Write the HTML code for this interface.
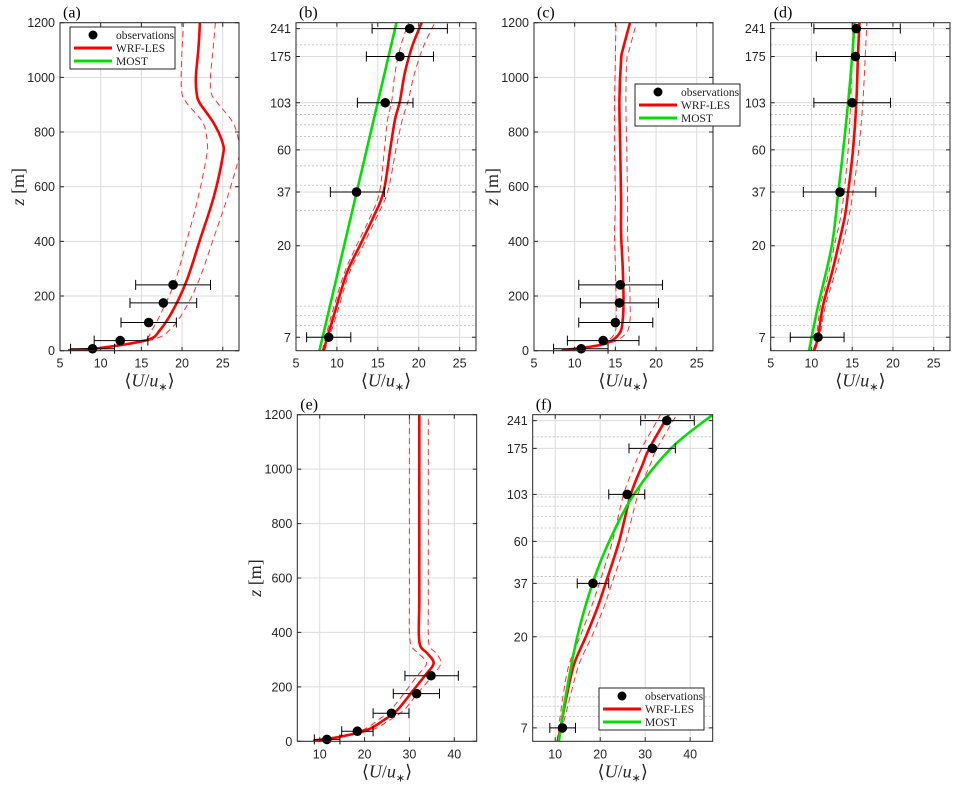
<!DOCTYPE html>
<html><head><meta charset="utf-8"><style>
html,body{margin:0;padding:0;background:#fff;}
svg{display:block;}
.tk{font-family:"Liberation Sans",sans-serif;font-size:12.5px;fill:#262626;}
.pl{font-family:"Liberation Serif",serif;font-size:16px;fill:#000;}
.at{font-family:"Liberation Serif",serif;font-size:18px;fill:#262626;}
.lg{font-family:"Liberation Serif",serif;font-size:11.5px;fill:#222;}
</style></head><body>
<svg id="fig" width="959" height="787" viewBox="0 0 959 787" xmlns="http://www.w3.org/2000/svg"></svg>
<script>
const obsZ = [7, 37, 103, 175, 241];
// panel a / b observations
const abObsU = [9.0, 12.4, 15.9, 17.7, 18.9];
const abObsLo = [6.3, 9.2, 12.5, 13.6, 14.3];
const abObsHi = [11.7, 15.8, 19.3, 21.8, 23.5];
// panel a WRF-LES
const aZ = [2, 10, 39, 76, 149, 259, 405, 563, 710, 759, 832, 905, 941, 1002, 1100, 1200];
const aU = [6.0, 9.9, 15.7, 17.3, 18.9, 20.6, 22.2, 23.9, 25.0, 25.0, 23.9, 22.2, 21.8, 21.7, 22.0, 22.2];
const aLo = [6.0, 9.9, 15.2, 16.3, 17.6, 19.2, 20.6, 22.0, 23.0, 23.1, 22.6, 20.6, 20.0, 19.9, 20.0, 20.2];
const aHi = [6.0, 9.9, 16.2, 18.5, 20.3, 22.1, 23.8, 25.6, 27.0, 27.0, 26.3, 24.4, 23.6, 23.5, 23.8, 24.1];
// panel b
const bZ = [6, 8.9, 14.6, 20, 28, 37, 60, 85, 105, 145, 197, 260];
const bU = [8.35, 9.6, 11.2, 12.8, 14.5, 15.7, 16.5, 17.1, 17.7, 18.3, 19.2, 20.4];
const bLo = [8.2, 9.3, 10.9, 12.4, 14.1, 15.2, 15.8, 16.2, 16.7, 17.1, 17.8, 18.8];
const bHi = [8.5, 9.9, 11.5, 13.2, 14.9, 16.2, 17.2, 18.0, 18.7, 19.5, 20.6, 22.0];
const bMostZ = [6, 10, 20, 37, 60, 103, 175, 260];
const bMostU = [7.86, 9.14, 10.88, 12.42, 13.63, 14.98, 16.31, 17.3];
// panel c
const cZ = [2, 9, 27, 63, 112, 185, 307, 429, 551, 734, 917, 1063, 1100, 1200];
const cU = [8.4, 10.6, 13.9, 15.5, 15.9, 16.0, 15.9, 15.7, 15.7, 15.6, 15.5, 15.7, 15.9, 16.8];
const cLo = [8.4, 10.5, 13.5, 14.9, 15.1, 15.1, 15.0, 14.9, 15.0, 14.9, 14.9, 15.0, 15.0, 15.1];
const cHi = [8.4, 10.7, 14.3, 16.3, 16.8, 16.8, 16.7, 16.5, 16.5, 16.4, 16.3, 16.4, 16.7, 17.6];
const cdObsU = [10.8, 13.5, 15.0, 15.5, 15.6];
const cdObsLo = [7.4, 9.1, 10.5, 10.7, 10.5];
const cdObsHi = [14.1, 17.9, 19.6, 20.3, 20.8];
// panel d
const dZ = [6, 7, 10, 14.6, 20, 28, 37, 60, 103, 175, 260];
const dU = [10.3, 10.8, 11.4, 12.5, 13.3, 14.1, 14.5, 15.1, 15.5, 15.7, 15.9];
const dLo = [10.2, 10.6, 11.1, 12.1, 12.8, 13.6, 14.0, 14.5, 14.8, 15.0, 15.1];
const dHi = [10.4, 11.0, 11.7, 12.9, 13.8, 14.6, 15.1, 15.8, 16.3, 16.6, 16.8];
const dMostZ = [6, 10, 20, 37, 60, 103, 175, 260];
const dMostU = [9.7, 10.8, 12.5, 13.3, 13.9, 14.5, 15.0, 15.3];
const dObsU = [10.8, 13.5, 15.0, 15.4, 15.5];
const dObsLo = [7.4, 9.0, 10.3, 10.6, 10.3];
const dObsHi = [14.0, 17.9, 19.7, 20.3, 20.9];
// panel e
const eZ = [2, 17, 42, 78, 115, 176, 238, 286, 323, 348, 397, 519, 764, 1200];
const eU = [8.5, 14.6, 20.6, 24.3, 27.3, 30.3, 33.3, 35.4, 34.0, 32.5, 32.1, 32.2, 32.2, 32.2];
const eLo = [8.5, 14.2, 19.6, 23.0, 25.8, 28.8, 31.6, 33.8, 32.0, 30.5, 30.0, 30.0, 30.0, 30.0];
const eHi = [8.5, 15.0, 21.6, 25.6, 28.8, 31.8, 35.0, 37.0, 36.0, 34.5, 34.2, 34.2, 34.2, 34.2];
const efObsU = [11.6, 18.4, 26.0, 31.6, 34.8];
const efObsLo = [8.8, 14.9, 21.9, 26.4, 29.0];
const efObsHi = [14.5, 21.9, 29.9, 36.7, 40.9];
// panel f
const fZ = [6, 10, 14.6, 20, 28, 37, 60, 103, 145, 175, 260];
const fU = [10.6, 12.5, 14.2, 16.8, 19.4, 21.2, 24.2, 26.8, 29.4, 30.9, 35.3];
const fLo = [10.4, 11.7, 13.1, 15.5, 18.0, 19.8, 22.7, 25.2, 27.7, 29.2, 33.5];
const fHi = [10.8, 13.3, 15.3, 18.1, 20.8, 22.6, 25.7, 28.4, 31.1, 32.6, 37.1];
const fMostZ = [6, 10, 20, 37, 60, 103, 175, 258];
const fMostU = [10.8, 12.3, 14.9, 18.3, 22.0, 27.5, 35.7, 45.0];

const linTicks = [0, 200, 400, 600, 800, 1000, 1200];
const logTicks = [7, 20, 37, 60, 103, 175, 241];
const logMinor = [8, 9, 10, 30, 40, 50, 70, 80, 90, 100, 200];
const xTicksTop = [5, 10, 15, 20, 25];
const xTicksBot = [10, 20, 30, 40];

const NS = "http://www.w3.org/2000/svg";
const fig = document.getElementById('fig');
function mk(tag, attrs, parent) {
  const e = document.createElementNS(NS, tag);
  for (const k in attrs) e.setAttribute(k, attrs[k]);
  (parent || fig).appendChild(e);
  return e;
}
function smooth(P) {
  let d = 'M' + P[0][0].toFixed(1) + ',' + P[0][1].toFixed(1);
  for (let i = 0; i < P.length - 1; i++) {
    const p0 = P[Math.max(0, i - 1)], p1 = P[i], p2 = P[i + 1], p3 = P[Math.min(P.length - 1, i + 2)];
    const c1x = p1[0] + (p2[0] - p0[0]) / 6, c1y = p1[1] + (p2[1] - p0[1]) / 6;
    const c2x = p2[0] - (p3[0] - p1[0]) / 6, c2y = p2[1] - (p3[1] - p1[1]) / 6;
    d += 'C' + c1x.toFixed(1) + ',' + c1y.toFixed(1) + ' ' + c2x.toFixed(1) + ',' + c2y.toFixed(1) + ' ' + p2[0].toFixed(1) + ',' + p2[1].toFixed(1);
  }
  return d;
}

function panel(cfg) {
  const g = mk('g', {});
  
  
  const L = cfg.L, R = cfg.R, T = cfg.T, B = cfg.B;
  const sx = v => L + (v - cfg.xmin) / (cfg.xmax - cfg.xmin) * (R - L);
  const sy = cfg.log
    ? z => B - (Math.log(z) - Math.log(6)) / (Math.log(258) - Math.log(6)) * (B - T)
    : z => B - z / 1200 * (B - T);
  const cid = 'clip-' + cfg.id;
  const cp = mk('clipPath', {id: cid}, g);
  mk('rect', {x: L, y: T, width: R - L, height: B - T}, cp);
  const xt = cfg.xticks;
  xt.forEach(v => {
    const l = mk('line', {x1: sx(v), x2: sx(v), y1: T, y2: B, stroke: '#dcdcdc', 'stroke-width': 1}, g);
    
    
  });
  const yt = cfg.log ? logTicks : linTicks;
  yt.forEach(v => {
    const l = mk('line', {x1: L, x2: R, y1: sy(v), y2: sy(v), stroke: '#dcdcdc', 'stroke-width': 1}, g);
    
    
  });
  if (cfg.log) logMinor.forEach(v => {
    const l = mk('line', {x1: L, x2: R, y1: sy(v), y2: sy(v), stroke: '#bbbbbb', 'stroke-width': 0.8, 'stroke-dasharray': '2,2'}, g);
    
    
  });
  const data = mk('g', {'clip-path': 'url(#' + cid + ')'}, g);
  
  
  const line = (Z, U, col, w, dash, name) => {
    const P = Z.map((z, i) => [sx(U[i]), sy(z)]);
    const p = mk('path', {d: smooth(P), fill: 'none', stroke: col, 'stroke-width': w, 'stroke-linejoin': 'round'}, data);
    if (dash) p.setAttribute('stroke-dasharray', dash);
    
    
  };
  line(cfg.Z, cfg.lo, '#ff3030', 1, '6,4', 'wrf-les-lower-bound');
  line(cfg.Z, cfg.hi, '#ff3030', 1, '6,4', 'wrf-les-upper-bound');
  line(cfg.Z, cfg.U, '#ff0000', 2.6, null, 'wrf-les-line');
  if (cfg.mZ) line(cfg.mZ, cfg.mU, '#00e000', 2.6, null, 'most-line');
  obsZ.forEach((z, i) => {
    const y = sy(z);
    const eb = mk('path', {d: 'M' + sx(cfg.oLo[i]) + ',' + y + 'H' + sx(cfg.oHi[i]) +
      'M' + sx(cfg.oLo[i]) + ',' + (y - 5) + 'V' + (y + 5) + 'M' + sx(cfg.oHi[i]) + ',' + (y - 5) + 'V' + (y + 5),
      stroke: '#000', 'stroke-width': 1, fill: 'none'}, g);
    
    
    const c = mk('circle', {cx: sx(cfg.oU[i]), cy: y, r: 4.8, fill: '#000'}, g);
    
    
  });
  const bx = mk('rect', {x: L, y: T, width: R - L, height: B - T, fill: 'none', stroke: '#262626', 'stroke-width': 1}, g);
  
  
  xt.forEach(v => {
    mk('path', {d: 'M' + sx(v) + ',' + B + 'v-4M' + sx(v) + ',' + T + 'v4', stroke: '#262626'}, g);
    const t = mk('text', {x: sx(v), y: B + 17, 'text-anchor': 'middle', class: 'tk'}, g);
    t.textContent = v;
    
    
  });
  yt.forEach(v => {
    mk('path', {d: 'M' + L + ',' + sy(v) + 'h4M' + R + ',' + sy(v) + 'h-4', stroke: '#262626'}, g);
    const t = mk('text', {x: L - 5, y: sy(v) + 4.5, 'text-anchor': 'end', class: 'tk'}, g);
    t.textContent = v;
    
    
  });
  const pl = mk('text', {x: L + 3, y: T - 5, class: 'pl'}, g);
  pl.textContent = '(' + cfg.id + ')';
  
  
  const xa = mk('text', {x: (L + R) / 2, y: B + 36, 'text-anchor': 'middle', class: 'at'}, g);
  xa.innerHTML = '⟨<tspan font-style="italic">U</tspan>/<tspan font-style="italic">u</tspan><tspan font-size="11" dy="4">∗</tspan><tspan dy="-4">⟩</tspan>';
  
  
  if (cfg.ytitle) {
    const ya = mk('text', {x: 0, y: 0, 'text-anchor': 'middle', class: 'at', transform: 'translate(' + cfg.ytitle + ',' + ((T + B) / 2) + ') rotate(-90)'}, g);
    ya.innerHTML = '<tspan font-style="italic">z</tspan> [m]';
    
    
  }
  if (cfg.leg) {
    const [lx, ly] = cfg.leg;
    const lg = mk('g', {}, g);
    
    
    mk('rect', {x: lx, y: ly, width: 105, height: 42, fill: '#fff', stroke: '#262626', 'stroke-width': 1}, lg);
    mk('circle', {cx: lx + 23, cy: ly + 8, r: 4.5, fill: '#000'}, lg);
    mk('line', {x1: lx + 4, x2: lx + 42, y1: ly + 21, y2: ly + 21, stroke: '#ff0000', 'stroke-width': 3}, lg);
    mk('line', {x1: lx + 4, x2: lx + 42, y1: ly + 34, y2: ly + 34, stroke: '#00e000', 'stroke-width': 3}, lg);
    [['observations', 12], ['WRF-LES', 25], ['MOST', 38]].forEach(([s, dy]) => {
      const t = mk('text', {x: lx + 46, y: ly + dy, class: 'lg'}, lg);
      t.textContent = s;
      
      
    });
  }
}

panel({id: 'a', L: 60, R: 239, T: 22.7, B: 350.7, xmin: 5, xmax: 27, xticks: xTicksTop, log: false,
  Z: aZ, U: aU, lo: aLo, hi: aHi, oU: abObsU, oLo: abObsLo, oHi: abObsHi, ytitle: 24, leg: [70, 27]});
panel({id: 'b', L: 296, R: 476, T: 22.7, B: 350.7, xmin: 5, xmax: 27, xticks: xTicksTop, log: true,
  Z: bZ, U: bU, lo: bLo, hi: bHi, mZ: bMostZ, mU: bMostU, oU: abObsU, oLo: abObsLo, oHi: abObsHi});
panel({id: 'c', L: 534, R: 713, T: 22.7, B: 350.7, xmin: 5, xmax: 27, xticks: xTicksTop, log: false,
  Z: cZ, U: cU, lo: cLo, hi: cHi, oU: cdObsU, oLo: cdObsLo, oHi: cdObsHi, ytitle: 498, leg: [635, 84]});
panel({id: 'd', L: 770.7, R: 950, T: 22.7, B: 350.7, xmin: 5, xmax: 27, xticks: xTicksTop, log: true,
  Z: dZ, U: dU, lo: dLo, hi: dHi, mZ: dMostZ, mU: dMostU, oU: dObsU, oLo: dObsLo, oHi: dObsHi});
panel({id: 'e', L: 297.3, R: 476.7, T: 414.7, B: 741.3, xmin: 5, xmax: 45, xticks: xTicksBot, log: false,
  Z: eZ, U: eU, lo: eLo, hi: eHi, oU: efObsU, oLo: efObsLo, oHi: efObsHi, ytitle: 261});
panel({id: 'f', L: 532.7, R: 712.7, T: 414.7, B: 741.3, xmin: 5, xmax: 45, xticks: xTicksBot, log: true,
  Z: fZ, U: fU, lo: fLo, hi: fHi, mZ: fMostZ, mU: fMostU, oU: efObsU, oLo: efObsLo, oHi: efObsHi, leg: [599, 688]});
</script>
</body></html>
